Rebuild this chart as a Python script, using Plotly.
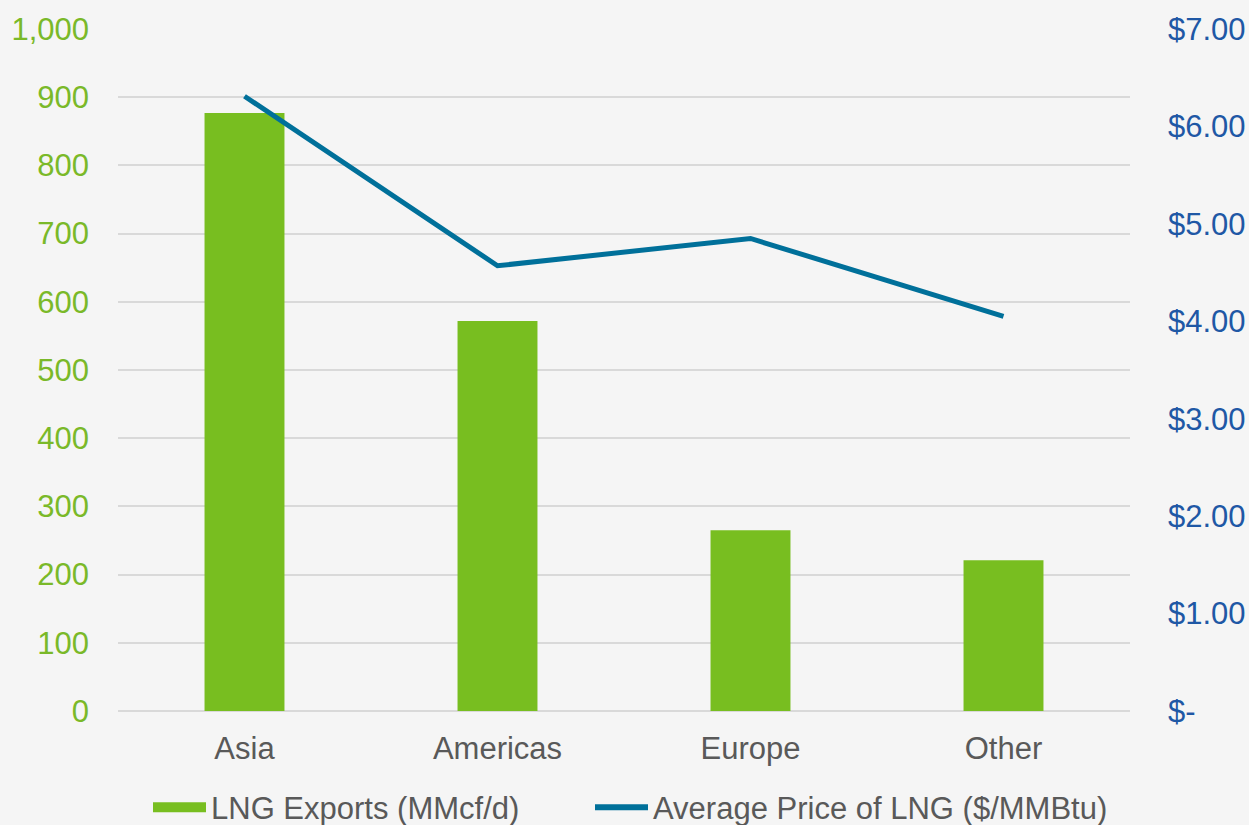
import plotly.graph_objects as go

regions = ["Asia", "Americas", "Europe", "Other"]
lng_exports = [877, 572, 265, 221]
avg_price = [6.31, 4.57, 4.85, 4.05]

left_tickvals = [0, 100, 200, 300, 400, 500, 600, 700, 800, 900, 1000]
right_tickvals = [0, 1, 2, 3, 4, 5, 6, 7]
right_ticktext = ["$-", "$1.00", "$2.00", "$3.00", "$4.00", "$5.00", "$6.00", "$7.00"]

FONT = "Liberation Sans, Arial, sans-serif"
GREEN = "#78be20"
TEAL = "#00709a"
BLUE = "#1f58a5"
GRAY = "#595959"

fig = go.Figure()
fig.add_trace(go.Bar(
    x=regions, y=lng_exports, name="LNG Exports (MMcf/d)",
    marker=dict(color=GREEN, line=dict(width=0)), width=0.316, yaxis="y",
    showlegend=False,
))
fig.add_trace(go.Scatter(
    x=regions, y=avg_price, name="Average Price of LNG ($/MMBtu)",
    mode="lines", line=dict(color=TEAL, width=5), yaxis="y2",
    showlegend=False,
))
# legend entries (wide swatches like the original)
fig.add_trace(go.Scatter(
    x=[regions[0]], y=[None], name="LNG Exports (MMcf/d)", mode="lines",
    line=dict(color=GREEN, width=17), yaxis="y", showlegend=True, hoverinfo="skip",
    legend="legend",
))
fig.add_trace(go.Scatter(
    x=[regions[0]], y=[None], name="Average Price of LNG ($/MMBtu)", mode="lines",
    line=dict(color=TEAL, width=6), yaxis="y2", showlegend=True, hoverinfo="skip",
    legend="legend2",
))

legend_common = dict(orientation="h", xanchor="left", y=0.021, yanchor="middle",
                     xref="container", yref="container",
                     font=dict(size=31, color=GRAY), bgcolor="rgba(0,0,0,0)",
                     itemwidth=53)

fig.update_layout(
    width=1249, height=825, autosize=False,
    margin=dict(l=118, r=119, t=29, b=114, autoexpand=False),
    paper_bgcolor="#f5f5f5", plot_bgcolor="#f5f5f5",
    font=dict(family=FONT, size=31, color=GRAY),
    showlegend=True,
    legend=dict(x=148 / 1249, **legend_common),
    legend2=dict(x=590 / 1249, **legend_common),
    xaxis=dict(showgrid=False, showline=False, ticks="", automargin=False,
               tickfont=dict(size=31, color=GRAY), ticklabelstandoff=16),
    yaxis=dict(range=[0, 1000], tickvals=left_tickvals, tickformat=",",
               showgrid=True, gridcolor="#d9d9d9", gridwidth=2, automargin=False,
               zeroline=True, zerolinecolor="#d9d9d9", zerolinewidth=2,
               showline=False, ticks="", tickfont=dict(size=31, color="#7ab929"),
               ticklabelstandoff=28),
    yaxis2=dict(range=[0, 7], tickvals=right_tickvals, ticktext=right_ticktext,
                overlaying="y", side="right", showgrid=False, zeroline=False,
                showline=False, ticks="", automargin=False,
                tickfont=dict(size=31, color=BLUE), ticklabelstandoff=37),
)

fig.write_html("out.html")
